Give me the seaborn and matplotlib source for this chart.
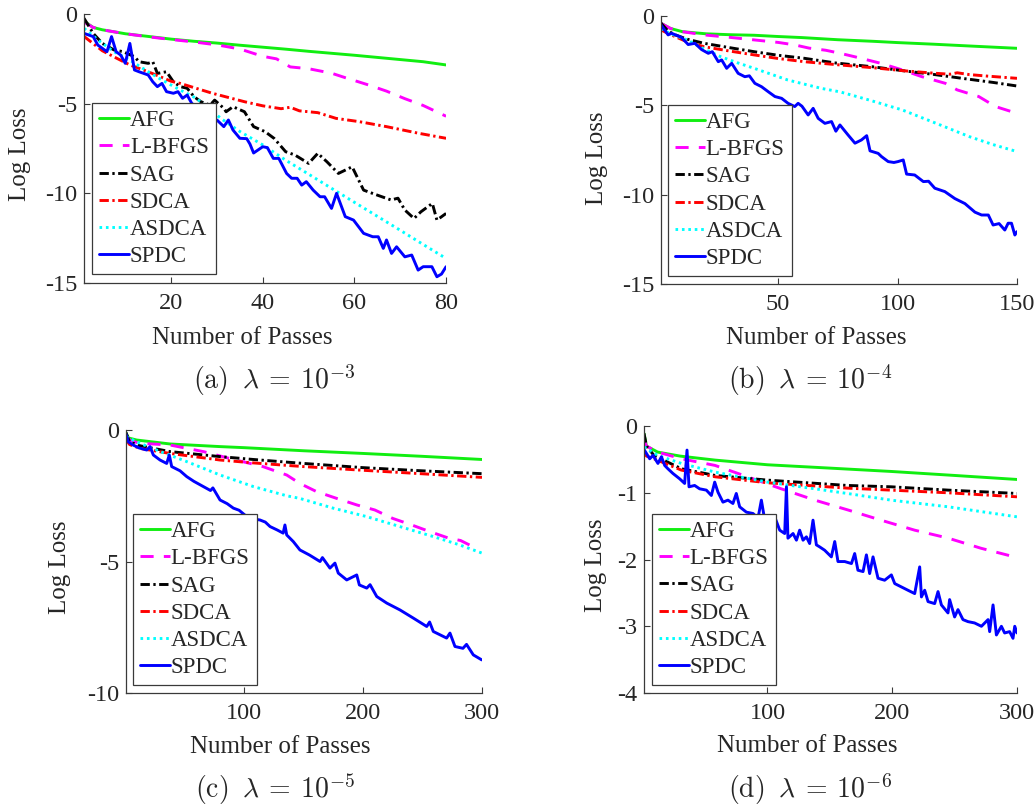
import matplotlib
matplotlib.use("Agg")
import matplotlib.pyplot as plt
import pandas as pd
import seaborn as sns

METHODS = ["AFG", "L-BFGS", "SAG", "SDCA", "ASDCA", "SPDC"]

# ---- panel (a): lambda = 1e-3 ----
A_AFG_X = [1, 3, 5, 10, 15, 20, 25, 30, 35, 40, 45, 50, 55, 60, 65, 70, 75, 80]
A_AFG_Y = [-0.4, -0.75, -0.88, -1.1, -1.25, -1.4, -1.52, -1.62, -1.74, -1.85,
           -1.96, -2.08, -2.19, -2.3, -2.42, -2.54, -2.66, -2.84]
A_LBFGS_X = [1, 3, 5, 10, 15, 20, 25, 30, 35, 40, 43, 46, 50, 55, 58, 63, 67, 71, 75, 80]
A_LBFGS_Y = [-0.45, -0.75, -0.88, -1.1, -1.27, -1.42, -1.56, -1.72, -1.95, -2.36,
             -2.5, -2.95, -3.05, -3.3, -3.55, -3.95, -4.3, -4.72, -5.1, -5.7]
A_SAG_X = [1, 3, 5, 7.5, 9.5, 12, 13, 15, 16, 17, 19, 20.5, 22, 23.5, 25, 26.5, 28.5,
           29.5, 31.5, 32, 33.5, 36, 38, 40.5, 42.5, 45, 47, 50, 52, 54, 56.5, 59.5,
           62, 65, 68, 69.5, 71, 73, 74.5, 77, 78, 80]
A_SAG_Y = [-0.24, -1.08, -1.64, -2.0, -2.1, -2.38, -2.66, -2.75, -2.66, -3.31, -3.22,
           -3.78, -4.05, -4.14, -4.61, -4.89, -5.08, -4.8, -5.26, -5.45, -5.17, -5.45,
           -6.28, -6.56, -6.94, -7.68, -7.86, -8.33, -7.77, -8.24, -8.89, -8.52, -9.82,
           -10.1, -10.37, -10.27, -10.93, -11.4, -11.03, -10.56, -11.49, -11.12]
A_SDCA_X = [1, 3, 5, 8, 11, 15, 20, 22, 29, 36, 40, 44, 46, 48, 52, 56, 61, 67, 74, 80]
A_SDCA_Y = [-1.25, -1.65, -2.05, -2.45, -2.84, -3.22, -3.75, -3.87, -4.42, -4.89,
            -5.12, -5.28, -5.2, -5.4, -5.5, -5.82, -6.0, -6.28, -6.65, -6.93]
A_ASDCA_X = [1, 4.5, 7.5, 11, 15, 18, 22, 25.5, 31, 35, 40, 45, 50, 55, 60, 65, 70, 75, 80]
A_ASDCA_Y = [-0.8, -1.54, -2.1, -2.57, -3.22, -3.68, -4.24, -4.7, -5.85, -6.55, -7.3,
             -8.15, -8.93, -9.72, -10.5, -11.28, -12.06, -12.85, -13.63]
A_SPDC_X = [1, 3, 4, 6, 7, 8, 9, 10, 11, 12, 13, 15, 16, 17, 18, 19, 20.5, 21.5, 22.5,
            23.5, 24.5, 27, 29, 30, 31.5, 32.5, 33.5, 35, 36.5, 37.2, 38, 40, 41, 42.3,
            43.5, 45.2, 46.3, 47.5, 48.5, 49.5, 51, 52.5, 53.5, 55, 56.1, 58, 59.8, 62,
            64, 65.2, 66.3, 67, 68.1, 69.2, 71, 72.5, 73.9, 75, 76.9, 78, 79, 80]
A_SPDC_Y = [-1.08, -1.26, -1.73, -2.1, -1.26, -2.1, -2.29, -2.75, -1.64, -3.12, -3.22,
            -3.4, -3.78, -4.05, -3.87, -4.33, -4.42, -4.33, -4.7, -4.52, -4.98, -5.5,
            -5.91, -5.91, -6.28, -5.91, -6.47, -6.93, -6.95, -7.25, -7.75, -7.4, -7.45,
            -8.05, -8.05, -8.89, -9.16, -9.16, -9.54, -9.35, -9.82, -10.19, -10.19,
            -10.84, -10.0, -11.3, -11.49, -12.23, -12.42, -12.42, -13.07, -12.6, -13.35,
            -12.98, -13.54, -13.44, -14.28, -14.09, -14.09, -14.65, -14.5, -14.09]

# ---- panel (b): lambda = 1e-4 ----
B_AFG_X = [1, 5, 10, 20, 30, 40, 50, 60, 75, 90, 100, 115, 130, 150]
B_AFG_Y = [-0.41, -0.7, -0.88, -1.0, -1.05, -1.08, -1.15, -1.21, -1.33, -1.42, -1.49,
           -1.58, -1.68, -1.81]
B_LBFGS_X = [1, 5, 10, 19, 30, 40, 50, 57, 63, 70, 76, 82, 93, 102, 110, 120, 125, 134,
             141, 150]
B_LBFGS_Y = [-0.41, -0.7, -0.88, -1.06, -1.2, -1.34, -1.48, -1.62, -1.8, -1.92, -2.09,
             -2.28, -2.65, -3.02, -3.39, -3.77, -4.14, -4.51, -5.07, -5.45]
B_SAG_X = [1, 4, 7, 12, 19, 30, 40, 50, 61, 74, 90, 102, 115, 127, 140, 150]
B_SAG_Y = [-0.4, -0.85, -1.06, -1.3, -1.53, -1.78, -2.0, -2.2, -2.37, -2.63, -2.85,
           -3.06, -3.27, -3.49, -3.72, -3.92]
B_SDCA_X = [1, 4, 7, 12, 19, 30, 40, 50, 61, 74, 90, 102, 116, 122, 125, 130, 137, 150]
B_SDCA_Y = [-0.78, -0.98, -1.16, -1.45, -1.72, -1.97, -2.18, -2.38, -2.56, -2.72, -2.9,
            -3.06, -3.21, -3.26, -3.18, -3.28, -3.36, -3.49]
B_ASDCA_X = [1, 5, 12, 19, 26, 33, 40, 54, 68, 76, 88, 102, 116, 130, 140, 150]
B_ASDCA_Y = [-0.7, -1.0, -1.34, -1.85, -2.28, -2.62, -2.93, -3.58, -4.05, -4.25, -4.7,
             -5.26, -6.0, -6.75, -7.2, -7.59]
B_SPDC_X = [1, 4, 5.5, 9.6, 12.4, 15.2, 18, 20.8, 22.5, 25, 26.4, 28.5, 30.6, 33.3, 36.1,
            38, 40.3, 43.1, 45.9, 48.7, 51.5, 54.2, 57, 58.4, 60, 62.6, 64.7, 66.8, 69.6,
            72.4, 74.2, 75.9, 79.3, 82.2, 84.9, 87.1, 88.5, 91.9, 93.3, 96.1, 98.5, 100.2,
            102.4, 103.8, 107.2, 110.8, 113, 115.6, 119.8, 124, 128.2, 132.4, 135.2, 138,
            140, 142.5, 144.9, 146.3, 147.7, 149.1, 150]
B_SPDC_Y = [-0.5, -1.06, -0.97, -1.2, -1.6, -1.53, -1.88, -2.09, -2.0, -2.56, -2.46,
            -2.93, -2.65, -3.21, -3.4, -3.35, -3.77, -3.96, -4.24, -4.51, -4.61, -4.89,
            -5.07, -4.89, -5.05, -5.54, -5.17, -5.73, -6.01, -5.91, -6.45, -6.1, -6.66,
            -7.12, -6.94, -6.7, -7.55, -7.69, -7.87, -8.15, -8.2, -8.15, -8.06, -8.85,
            -8.9, -9.27, -9.25, -9.64, -9.83, -10.22, -10.5, -10.98, -11.14, -11.14,
            -11.7, -11.62, -11.98, -11.6, -11.6, -12.26, -12.07]

# ---- panel (c): lambda = 1e-5 ----
C_AFG_X = [1, 3, 10, 38, 80, 100, 151, 200, 250, 300]
C_AFG_Y = [-0.1, -0.3, -0.38, -0.53, -0.63, -0.67, -0.79, -0.89, -1.0, -1.12]
C_LBFGS_X = [1, 5, 12, 38, 66, 88, 116, 136, 147, 161, 178, 195, 210, 225, 241, 256,
             272, 282, 293]
C_LBFGS_Y = [-0.25, -0.4, -0.5, -0.57, -0.82, -1.08, -1.39, -1.71, -2.03, -2.34, -2.6,
             -2.85, -3.04, -3.36, -3.61, -3.86, -4.11, -4.2, -4.45]
C_SAG_X = [1, 4, 13, 38, 80, 108, 150, 200, 245, 300]
C_SAG_Y = [-0.1, -0.45, -0.6, -0.82, -1.01, -1.12, -1.27, -1.43, -1.54, -1.66]
C_SDCA_X = [1, 4, 13, 38, 80, 108, 150, 200, 245, 300]
C_SDCA_Y = [-0.35, -0.55, -0.7, -0.89, -1.14, -1.25, -1.39, -1.53, -1.65, -1.8]
C_ASDCA_X = [1, 13, 30, 52, 80, 108, 136, 147, 175, 203, 231, 259, 280, 300]
C_ASDCA_Y = [-0.25, -0.51, -0.82, -1.2, -1.71, -2.15, -2.5, -2.6, -2.97, -3.29, -3.67,
             -4.05, -4.35, -4.68]
C_SPDC_X = [1, 3, 7, 12, 18.4, 21.2, 24, 29.6, 35.2, 37.4, 39.4, 46.4, 52, 58, 66, 72,
            74, 80, 86, 91.2, 96, 102.4, 108, 113.5, 118, 122, 128, 133, 134.5, 136,
            141.5, 147.1, 155, 164, 166, 172.3, 176.5, 179.3, 186.4, 194.8, 197, 203.2,
            206, 211.6, 220, 231.1, 242.3, 253.6, 256, 259.1, 270.3, 273.1, 277.3, 284,
            287, 292.7, 299.8]
C_SPDC_Y = [-0.15, -0.45, -0.57, -0.68, -0.76, -0.63, -0.95, -1.14, -1.27, -0.95, -1.39,
            -1.55, -1.77, -1.95, -2.15, -2.3, -2.2, -2.66, -2.8, -2.97, -3.05, -3.29,
            -3.38, -3.42, -3.5, -3.67, -3.8, -3.92, -3.61, -3.99, -4.24, -4.56, -4.75,
            -5.0, -4.85, -5.25, -5.06, -5.44, -5.7, -5.51, -5.89, -6.01, -5.88, -6.33,
            -6.58, -6.84, -7.15, -7.47, -7.3, -7.66, -7.91, -7.72, -8.23, -8.3, -8.15,
            -8.55, -8.74]

# ---- panel (d): lambda = 1e-6 ----
D_AFG_X = [1, 3, 12, 30, 58, 100, 150, 199, 250, 300]
D_AFG_Y = [-0.11, -0.3, -0.39, -0.45, -0.51, -0.58, -0.63, -0.68, -0.74, -0.8]
D_LBFGS_X = [1, 3, 12, 31, 58, 84, 111, 138, 165, 191, 218, 245, 271, 300]
D_LBFGS_Y = [-0.2, -0.3, -0.39, -0.49, -0.59, -0.76, -0.94, -1.11, -1.26, -1.41, -1.56,
             -1.68, -1.83, -1.97]
D_SAG_X = [1, 3, 9, 31, 58, 100, 164, 199, 245, 300]
D_SAG_Y = [-0.11, -0.3, -0.44, -0.64, -0.74, -0.81, -0.89, -0.91, -0.96, -1.01]
D_SDCA_X = [1, 3, 9, 31, 58, 100, 164, 199, 245, 300]
D_SDCA_Y = [-0.39, -0.45, -0.49, -0.66, -0.76, -0.85, -0.93, -0.96, -1.0, -1.06]
D_ASDCA_X = [1, 12, 31, 58, 100, 138, 164, 199, 245, 300]
D_ASDCA_Y = [-0.31, -0.44, -0.56, -0.69, -0.84, -0.94, -1.01, -1.11, -1.21, -1.36]
D_SPDC_X = [1, 5.6, 8.2, 12.2, 15, 17.6, 20.2, 24.2, 29.6, 33.6, 35.5, 37.1, 41.6, 45.6,
            51, 55, 57.7, 60.3, 64.3, 68.3, 72.3, 75, 77.7, 83.1, 88.4, 92.4, 95.1, 97.8,
            101.8, 104.4, 105.8, 109.8, 113.8, 115.2, 116.4, 120.5, 123.2, 125.8, 128.5,
            131.2, 133.8, 136.5, 139.2, 141.8, 145.8, 151.2, 153.9, 156.5, 161.9, 167.3,
            169.9, 172.5, 176.6, 179.3, 181.9, 184.6, 188.6, 193.9, 199.3, 202, 207.3,
            212.6, 218, 222, 223.4, 226, 228.7, 234, 236.7, 239.4, 244.7, 246, 250,
            252.7, 256.7, 260.7, 266, 271.5, 276.8, 278.1, 280.8, 283.5, 287.5, 290.1,
            294.1, 296.8, 298.2, 300]
D_SPDC_Y = [-0.35, -0.49, -0.44, -0.56, -0.46, -0.59, -0.64, -0.71, -0.79, -0.86, -0.36,
            -0.91, -0.89, -0.94, -0.96, -1.04, -0.84, -0.99, -1.14, -1.11, -1.16, -1.01,
            -1.21, -1.29, -1.31, -1.38, -1.11, -1.41, -1.46, -1.51, -1.36, -1.56, -1.61,
            -0.91, -1.68, -1.61, -1.71, -1.56, -1.71, -1.66, -1.76, -1.41, -1.78, -1.81,
            -1.86, -1.96, -1.73, -2.03, -2.03, -2.06, -1.91, -2.16, -2.18, -1.93, -2.21,
            -1.96, -2.28, -2.31, -2.23, -2.36, -2.41, -2.46, -2.51, -2.11, -2.56, -2.46,
            -2.63, -2.66, -2.48, -2.68, -2.8, -2.6, -2.86, -2.75, -2.9, -2.93, -2.95,
            -3.0, -2.9, -3.08, -2.68, -3.13, -3.0, -3.1, -3.08, -3.18, -3.0, -3.1]

COLORS = {"AFG": "#11ee11", "L-BFGS": "#ff00ff", "SAG": "#000000",
          "SDCA": "#ff0000", "ASDCA": "#00ffff", "SPDC": "#0000ff"}
DASHES = {"AFG": "", "L-BFGS": (4.5, 3.5), "SAG": (3.2, 1.2, 0.8, 1.2),
          "SDCA": (3.2, 1.2, 0.8, 1.2), "ASDCA": (0.9, 1.3), "SPDC": ""}


def build_frame(series):
    parts = []
    for name in METHODS:
        xs, ys = series[name]
        parts.append(pd.DataFrame({"passes": xs, "loss": ys, "method": name}))
    return pd.concat(parts, ignore_index=True)


def caption(tag, power):
    return r"$\mathrm{(" + tag + r")}\;\;\lambda\:=\:10^{-" + power + r"}$"


panels = [
    dict(series={"AFG": (A_AFG_X, A_AFG_Y), "L-BFGS": (A_LBFGS_X, A_LBFGS_Y),
                 "SAG": (A_SAG_X, A_SAG_Y), "SDCA": (A_SDCA_X, A_SDCA_Y),
                 "ASDCA": (A_ASDCA_X, A_ASDCA_Y), "SPDC": (A_SPDC_X, A_SPDC_Y)},
         rect=[0.0812, 0.6506, 0.3498, 0.3321], xlim=(1, 80), xticks=[20, 40, 60, 80],
         ylim=(-15, 0), yticks=[-15, -10, -5, 0], xlab=(0.436, -0.204), ylab=(-0.177, 0.48),
         leg=(0.022, 0.033), cap=caption("a", "3"), cap_xy=(0.2647, 0.5309)),
    dict(series={"AFG": (B_AFG_X, B_AFG_Y), "L-BFGS": (B_LBFGS_X, B_LBFGS_Y),
                 "SAG": (B_SAG_X, B_SAG_Y), "SDCA": (B_SDCA_X, B_SDCA_Y),
                 "ASDCA": (B_ASDCA_X, B_ASDCA_Y), "SPDC": (B_SPDC_X, B_SPDC_Y)},
         rect=[0.6386, 0.6494, 0.3440, 0.3309], xlim=(1, 150), xticks=[50, 100, 150],
         ylim=(-15, 0), yticks=[-15, -10, -5, 0], xlab=(0.435, -0.201), ylab=(-0.18, 0.47),
         leg=(0.0197, 0.030), cap=caption("b", "4"), cap_xy=(0.7826, 0.5309)),
    dict(series={"AFG": (C_AFG_X, C_AFG_Y), "L-BFGS": (C_LBFGS_X, C_LBFGS_Y),
                 "SAG": (C_SAG_X, C_SAG_Y), "SDCA": (C_SDCA_X, C_SDCA_Y),
                 "ASDCA": (C_ASDCA_X, C_ASDCA_Y), "SPDC": (C_SPDC_X, C_SPDC_Y)},
         rect=[0.1217, 0.1444, 0.3440, 0.3247], xlim=(1, 300), xticks=[100, 200, 300],
         ylim=(-10, 0), yticks=[-10, -5, 0], xlab=(0.433, -0.205), ylab=(-0.185, 0.479),
         leg=(0.0197, 0.030), cap=caption("c", "5"), cap_xy=(0.2657, 0.0259)),
    dict(series={"AFG": (D_AFG_X, D_AFG_Y), "L-BFGS": (D_LBFGS_X, D_LBFGS_Y),
                 "SAG": (D_SAG_X, D_SAG_Y), "SDCA": (D_SDCA_X, D_SDCA_Y),
                 "ASDCA": (D_ASDCA_X, D_ASDCA_Y), "SPDC": (D_SPDC_X, D_SPDC_Y)},
         rect=[0.6222, 0.1444, 0.3604, 0.3296], xlim=(1, 300), xticks=[100, 200, 300],
         ylim=(-4, 0), yticks=[-4, -3, -2, -1, 0], xlab=(0.437, -0.2), ylab=(-0.129, 0.479),
         leg=(0.0214, 0.030), cap=caption("d", "6"), cap_xy=(0.7826, 0.0259)),
]

sns.set_style("ticks")
plt.rcParams["font.family"] = ["Liberation Serif", "DejaVu Serif"]
plt.rcParams["mathtext.fontset"] = "cm"
plt.rcParams["axes.unicode_minus"] = False

fig = plt.figure(figsize=(10.35, 8.1), dpi=100)
text_color = "#262626"

for p in panels:
    ax = fig.add_axes(p["rect"])
    df = build_frame(p["series"])
    sns.lineplot(data=df, x="passes", y="loss", hue="method", style="method",
                 hue_order=METHODS, style_order=METHODS, palette=COLORS,
                 dashes=DASHES, estimator=None, sort=False, linewidth=2.1,
                 legend=False, ax=ax)

    ax.set_xlim(*p["xlim"])
    ax.set_ylim(*p["ylim"])
    ax.set_xticks(p["xticks"])
    ax.set_yticks(p["yticks"])
    sns.despine(ax=ax)
    for side in ["left", "bottom"]:
        ax.spines[side].set_color("#3a3a3a")
        ax.spines[side].set_linewidth(0.9)
    ax.tick_params(direction="in", length=4, width=0.8, colors="#3a3a3a",
                   labelcolor=text_color, labelsize=17.5)
    ax.tick_params(axis="x", pad=7)
    ax.tick_params(axis="y", pad=5)

    ax.set_xlabel("Number of Passes", fontsize=18, color=text_color)
    ax.set_ylabel("Log Loss", fontsize=18, color=text_color)
    ax.xaxis.set_label_coords(*p["xlab"])
    ax.yaxis.set_label_coords(*p["ylab"])
    ax.xaxis.label.set_va("center")
    ax.yaxis.label.set_va("center")

    leg = ax.legend(handles=ax.get_lines()[:len(METHODS)], labels=METHODS,
                    loc="lower left", bbox_to_anchor=p["leg"], borderaxespad=0,
                    fontsize=16.5, frameon=True, fancybox=False, framealpha=1,
                    edgecolor="#3a3a3a", handlelength=1.3, handletextpad=0.05,
                    labelspacing=0.27, borderpad=0.3)
    leg.get_frame().set_linewidth(0.9)
    for t in leg.get_texts():
        t.set_color(text_color)

    fig.text(p["cap_xy"][0], p["cap_xy"][1], p["cap"], fontsize=20,
             ha="center", va="center", color=text_color)

fig.savefig("out.png", dpi=100)
